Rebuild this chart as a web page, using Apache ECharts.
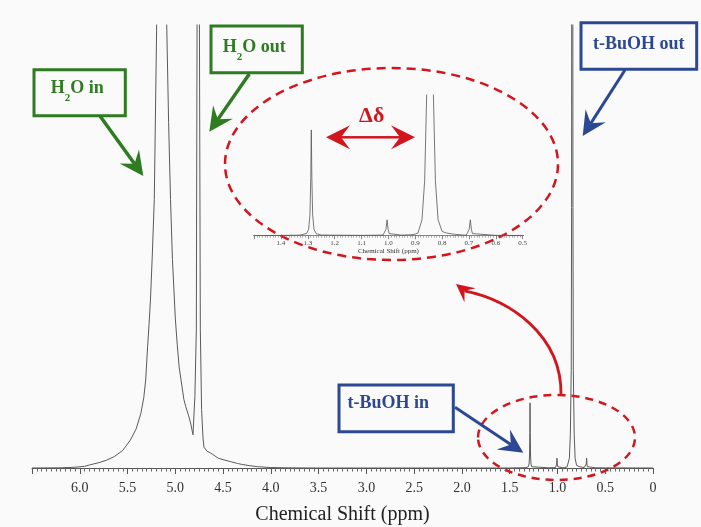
<!DOCTYPE html>
<html>
<head>
<meta charset="utf-8">
<script src="https://cdn.jsdelivr.net/npm/echarts@6/dist/echarts.min.js"></script>
<style>
html,body{margin:0;padding:0;background:#fafafa;}
#chart{width:701px;height:527px;}
</style>
</head>
<body>
<div id="chart"></div>
<script>
// ---- Data (ppm, relative intensity; t-BuOH "in" peak = 100) ----
const spectrumPpm = [
  6.50, 6.20, 6.07, 5.95, 5.90, 5.80, 5.72, 5.64, 5.55, 5.47, 5.41, 5.36, 5.33, 5.31, 5.29, 5.275, 5.26, 5.24, 5.22, 5.195,
  5.17, 5.13, 5.09, 5.07, 5.05, 5.03, 5.00, 4.98, 4.96, 4.94, 4.91, 4.89, 4.86, 4.84, 4.82, 4.815, 4.81, 4.795, 4.78, 4.772,
  4.76, 4.748, 4.738, 4.725, 4.71, 4.70, 4.67, 4.63, 4.55, 4.48, 4.42, 4.35, 4.30, 4.22, 4.14, 4.00, 3.80, 3.50, 1.50,
  1.33, 1.305, 1.297, 1.292, 1.289, 1.287, 1.285, 1.282, 1.277, 1.269, 1.25, 1.10,
  1.02, 1.013, 1.009, 1.005, 1.001, 0.997, 0.99, 0.95, 0.925, 0.918, 0.912,
  0.90, 0.89, 0.875, 0.865, 0.856, 0.852, 0.848, 0.845, 0.842, 0.838, 0.834, 0.825, 0.815, 0.80, 0.783, 0.765, 0.75, 0.72,
  0.71, 0.703, 0.699, 0.695, 0.691, 0.687, 0.68, 0.60, 0.50, 0.00
];
const spectrumIntensity = [
  0, 0.3, 1.0, 2.5, 4.6, 8.2, 12, 17.4, 27, 43, 60, 84, 108, 135, 186, 220, 258, 330, 412, 681,
  1100, 1500, 681, 530, 412, 320, 230, 190, 155, 135, 105, 94, 80, 69, 66, 51, 66, 110, 212, 700,
  3000, 700, 212, 90, 46, 32, 26, 23, 15, 12, 9.7, 7, 5.4, 3.5, 2, 0.7, 0.2, 0, 0,
  0.5, 2, 6, 20, 55, 100, 55, 20, 6, 2, 0.6, 0.3,
  0.6, 2, 6, 15, 6, 2, 0.6, 0.5, 0.8, 2.5, 1,
  1.5, 2.5, 15, 52, 150, 400, 1500, 2500, 1500, 400, 150, 52, 15, 4, 2.5, 1.8, 1.2, 0.6,
  0.6, 2, 6, 15, 6, 2, 0.6, 0.3, 0.2, 0
];
// axis ranges / ticks
const mainAxisMin = 0, mainAxisMax = 6.5, mainTickStep = 0.5;
const insetAxisMin = 0.5, insetAxisMax = 1.5, insetTickStep = 0.1;
const mainYMax = 680, insetYMax = 133;
const axisTitle = 'Chemical Shift (ppm)';

const spectrum = spectrumPpm.map((p, i) => [p, spectrumIntensity[i]]);

const chart = echarts.init(document.getElementById('chart'), null, {renderer: 'canvas'});

// helpers for annotations
const GREEN = '#2e7b22', BLUE = '#2c4893', RED = '#d2161e';
const measure = document.createElement('canvas').getContext('2d');
function textW(str, font) { measure.font = font; return measure.measureText(str).width; }
function head(tip, from, len, hw, notch) {
  const dx = tip[0] - from[0], dy = tip[1] - from[1];
  const L = Math.hypot(dx, dy), ux = dx / L, uy = dy / L, px = -uy, py = ux;
  const bx = tip[0] - ux * len, by = tip[1] - uy * len;
  return {
    pts: [tip, [bx + px * hw, by + py * hw], [tip[0] - ux * notch, tip[1] - uy * notch], [bx - px * hw, by - py * hw]],
    neck: [tip[0] - ux * notch, tip[1] - uy * notch]
  };
}
function arrow(from, tip, color, w, len, hw, notch) {
  const h = head(tip, from, len, hw, notch);
  return [
    {type: 'line', shape: {x1: from[0], y1: from[1], x2: h.neck[0], y2: h.neck[1]}, style: {stroke: color, lineWidth: w}},
    {type: 'polygon', shape: {points: h.pts}, style: {fill: color}}
  ];
}
function box(x, y, w, h, color) {
  return {type: 'rect', shape: {x: x, y: y, width: w, height: h}, style: {fill: '#fafafa', stroke: color, lineWidth: 3}};
}
const BIG = 'bold 18px "Liberation Serif"', SMALL = 'bold 11px "Liberation Serif"';
function h2oLabel(x, y, tail) {
  const wH = textW('H', BIG), w2 = textW('2', SMALL);
  return [
    {type: 'text', style: {text: 'H', x: x, y: y, font: BIG, fill: GREEN, verticalAlign: 'middle'}},
    {type: 'text', style: {text: '2', x: x + wH, y: y + 10, font: SMALL, fill: GREEN, verticalAlign: 'middle'}},
    {type: 'text', style: {text: tail, x: x + wH + w2, y: y, font: BIG, fill: GREEN, verticalAlign: 'middle'}}
  ];
}

let graphics = [];
// red dashed ellipses
graphics.push({type: 'ellipse', shape: {cx: 391.5, cy: 164, rx: 166.5, ry: 96}, style: {fill: null, stroke: RED, lineWidth: 2.5, lineDash: [9, 6]}});
graphics.push({type: 'ellipse', shape: {cx: 556.5, cy: 437.5, rx: 78.5, ry: 42.5}, style: {fill: null, stroke: RED, lineWidth: 2.5, lineDash: [8, 6]}});
// red curved arrow
(function () {
  const s = [561, 395], c1 = [562, 335], c2 = [510, 300], e = [466, 292];
  const h = head([456, 284], e, 18, 9, 11);
  graphics.push({type: 'bezierCurve', shape: {x1: s[0], y1: s[1], cpx1: c1[0], cpy1: c1[1], cpx2: c2[0], cpy2: c2[1], x2: h.neck[0], y2: h.neck[1]}, style: {stroke: RED, lineWidth: 2.8, fill: null}});
  graphics.push({type: 'polygon', shape: {points: h.pts}, style: {fill: RED}});
})();
// delta-delta double arrow
graphics = graphics.concat(arrow([371, 137.3], [326, 137.3], RED, 2.5, 24, 12, 15));
graphics = graphics.concat(arrow([371, 137.3], [415, 137.3], RED, 2.5, 24, 12, 15));
graphics.push({type: 'text', style: {text: 'Δδ', x: 371.7, y: 116, font: 'bold 22px "Liberation Serif"', fill: RED, align: 'center', verticalAlign: 'middle'}});
// H2O in
graphics = graphics.concat(arrow([100, 116], [143.3, 176], GREEN, 3.5, 24, 12, 15));
graphics.push(box(34, 69.7, 91.3, 46, GREEN));
graphics = graphics.concat(h2oLabel(50.7, 88.5, 'O in'));
// H2O out
graphics = graphics.concat(arrow([249.3, 74], [209.3, 131.7], GREEN, 3.5, 24, 12, 15));
graphics.push(box(211, 26, 91.3, 46.7, GREEN));
graphics = graphics.concat(h2oLabel(222.7, 47.5, 'O out'));
// t-BuOH out
graphics = graphics.concat(arrow([625, 70], [582.7, 136], BLUE, 3, 24, 12, 15));
graphics.push(box(581, 22.7, 115.7, 46.6, BLUE));
graphics.push({type: 'text', style: {text: 't-BuOH out', x: 638.8, y: 44, font: BIG, fill: BLUE, align: 'center', verticalAlign: 'middle'}});
// t-BuOH in
graphics = graphics.concat(arrow([455, 407.3], [523.3, 452.7], BLUE, 3, 24, 12, 15));
graphics.push(box(339, 385, 114.3, 46.7, BLUE));
graphics.push({type: 'text', style: {text: 't-BuOH in', x: 388.3, y: 403.5, font: BIG, fill: BLUE, align: 'center', verticalAlign: 'middle'}});

const fmt1 = v => (Math.abs(v) < 1e-9 ? '0' : v.toFixed(1));

const option = {
  backgroundColor: '#fafafa',
  animation: false,
  grid: [
    {left: 32, right: 48, top: 25, bottom: 59, outerBoundsMode: 'none', containLabel: false},
    {left: 254.1, right: 178.3, top: 95, bottom: 291.3, outerBoundsMode: 'none', containLabel: false}
  ],
  xAxis: [
    {
      type: 'value', gridIndex: 0, inverse: true, min: mainAxisMin, max: mainAxisMax, interval: mainTickStep,
      name: axisTitle, nameLocation: 'middle', nameGap: 37,
      nameTextStyle: {fontFamily: 'Liberation Serif', fontSize: 20, color: '#222'},
      axisLine: {onZero: false, lineStyle: {color: '#555', width: 1}},
      axisTick: {length: 6, lineStyle: {color: '#555'}},
      minorTick: {show: true, splitNumber: 10, length: 3.5, lineStyle: {color: '#666'}},
      axisLabel: {fontFamily: 'Liberation Serif', fontSize: 14, color: '#333', margin: 13, showMaxLabel: false,
        formatter: v => (v > 6.4 ? '' : fmt1(v))},
      splitLine: {show: false}
    },
    {
      type: 'value', gridIndex: 1, inverse: true, min: insetAxisMin, max: insetAxisMax, interval: insetTickStep,
      name: axisTitle, nameLocation: 'middle', nameGap: 12,
      nameTextStyle: {fontFamily: 'Liberation Serif', fontSize: 7, color: '#333'},
      axisLine: {onZero: false, lineStyle: {color: '#666', width: 0.8}},
      axisTick: {length: 3.5, lineStyle: {color: '#666', width: 0.8}},
      minorTick: {show: true, splitNumber: 10, length: 2, lineStyle: {color: '#777', width: 0.6}},
      axisLabel: {fontFamily: 'Liberation Serif', fontSize: 7, color: '#444', margin: 4, showMaxLabel: false,
        formatter: v => (v > 1.45 ? '' : fmt1(v))},
      splitLine: {show: false}
    }
  ],
  yAxis: [
    {type: 'value', gridIndex: 0, min: 0, max: mainYMax, show: false},
    {type: 'value', gridIndex: 1, min: 0, max: insetYMax, show: false}
  ],
  series: [
    {type: 'line', xAxisIndex: 0, yAxisIndex: 0, data: spectrum, showSymbol: false, silent: true,
      lineStyle: {color: '#5a5a5a', width: 1}},
    {type: 'line', xAxisIndex: 1, yAxisIndex: 1, data: spectrum, showSymbol: false, silent: true,
      lineStyle: {color: '#555', width: 0.8}}
  ],
  graphic: {elements: graphics}
};
chart.setOption(option);
</script>
</body>
</html>
